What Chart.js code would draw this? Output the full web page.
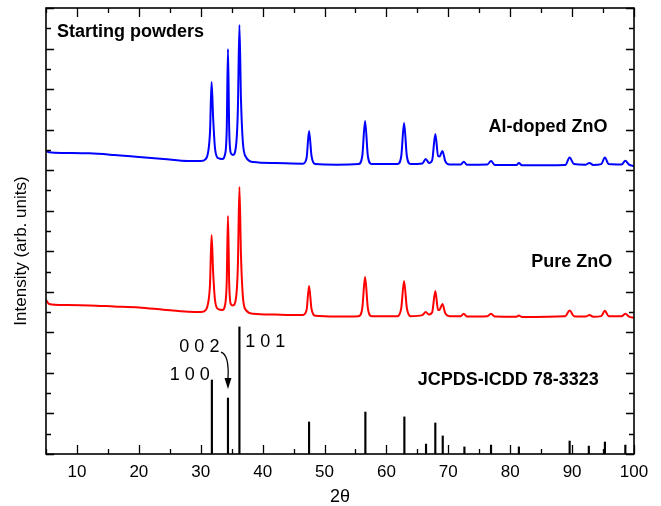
<!DOCTYPE html>
<html>
<head>
<meta charset="utf-8">
<script src="https://cdn.jsdelivr.net/npm/chart.js@4/dist/chart.umd.min.js"></script>
<style>
  body { margin: 0; background: #fff; }
  canvas { display: block; }
</style>
</head>
<body>
<canvas id="grafico" width="661" height="506"></canvas>
<script>
// 2θ grid shared by both scans
const scanAngles = [5, 5.5, 8, 12, 16, 20, 24, 28, 30, 30.8, 31.2, 31.5, 31.75, 32.0, 32.3, 32.8, 33.5, 33.9, 34.2, 34.4, 34.6, 34.85, 35.2, 35.7, 36.0, 36.25, 36.5, 36.8, 37.3, 38.5, 42, 46.5, 47.1, 47.5, 47.9, 48.5, 52, 55.5, 56.1, 56.55, 57.0, 57.6, 61.8, 62.4, 62.85, 63.3, 63.9, 65.8, 66.35, 66.9, 67.4, 67.9, 68.35, 68.6, 69.05, 69.5, 70.2, 72.0, 72.5, 73.0, 76.3, 76.9, 77.5, 81.0, 81.4, 81.9, 88.9, 89.6, 90.3, 92.2, 92.8, 93.4, 94.7, 95.3, 95.9, 98.0, 98.6, 99.2, 100];

// Al-doped ZnO (desplazado hacia arriba)
const alDoped = [14.95, 14.88, 14.85, 14.83, 14.75, 14.65, 14.55, 14.45, 14.45, 14.55, 14.9, 15.9, 18.35, 16.6, 15.1, 14.6, 14.55, 14.75, 16.0, 19.98, 16.0, 14.85, 14.75, 15.2, 17.0, 21.16, 17.5, 15.4, 14.65, 14.4, 14.35, 14.32, 14.6, 15.93, 14.7, 14.3, 14.27, 14.3, 14.7, 16.43, 14.7, 14.3, 14.3, 14.7, 16.33, 14.7, 14.3, 14.33, 14.55, 14.35, 14.5, 15.79, 14.7, 14.68, 14.95, 14.45, 14.28, 14.28, 14.42, 14.27, 14.28, 14.45, 14.26, 14.25, 14.35, 14.24, 14.26, 14.62, 14.3, 14.27, 14.36, 14.26, 14.3, 14.62, 14.3, 14.28, 14.46, 14.27, 14.2];

// Pure ZnO
const pureZnO = [7.6, 7.4, 7.35, 7.33, 7.28, 7.23, 7.12, 7.02, 7.0, 7.1, 7.45, 8.4, 10.8, 9.0, 7.6, 7.15, 7.1, 7.3, 8.5, 11.74, 8.4, 7.4, 7.33, 7.7, 9.3, 13.17, 9.8, 7.8, 7.1, 6.92, 6.88, 6.86, 7.1, 8.29, 7.15, 6.82, 6.78, 6.8, 7.2, 8.73, 7.2, 6.8, 6.8, 7.2, 8.53, 7.2, 6.8, 6.85, 7.0, 6.88, 7.0, 8.04, 7.1, 7.12, 7.4, 6.95, 6.8, 6.8, 6.92, 6.78, 6.8, 6.92, 6.78, 6.77, 6.83, 6.76, 6.8, 7.08, 6.8, 6.78, 6.86, 6.77, 6.8, 7.06, 6.8, 6.8, 6.92, 6.78, 6.72];

// JCPDS-ICDD 78-3323 reference lines
const refAngles = [31.8, 34.4, 36.25, 47.5, 56.6, 62.9, 66.4, 67.9, 69.1, 72.6, 76.9, 81.4, 89.6, 92.7, 95.3, 98.6];
const refHeights = [3.65, 2.76, 6.27, 1.58, 2.07, 1.83, 0.49, 1.53, 0.89, 0.35, 0.44, 0.35, 0.64, 0.39, 0.59, 0.44];

const xTickLabels = [10, 20, 30, 40, 50, 60, 70, 80, 90, 100];

const FUENTE = "'Liberation Sans', Arial, sans-serif";

function puntos(xs, ys) {
    return xs.map((x, i) => ({ x: x, y: ys[i] }));
}

// marco, marcas hacia dentro y textos
const marco = {
    id: 'marco',
    afterDatasetsDraw(chart) {
        const { ctx, chartArea: a, scales: { x, y } } = chart;
        ctx.save();
        ctx.strokeStyle = '#000';
        ctx.lineWidth = 1.6;
        ctx.strokeRect(a.left, a.top, a.right - a.left, a.bottom - a.top);

        ctx.lineWidth = 1.3;
        ctx.beginPath();
        for (let v = 5; v <= 100; v += 5) {
            const px = Math.round(x.getPixelForValue(v)) + 0.5;
            const len = v % 10 === 0 ? 9 : 5;
            ctx.moveTo(px, a.bottom); ctx.lineTo(px, a.bottom - len);
            ctx.moveTo(px, a.top); ctx.lineTo(px, a.top + len);
        }
        for (let v = 0; v <= 22; v++) {
            const py = Math.round(y.getPixelForValue(v)) + 0.5;
            const len = v % 2 === 0 ? 8 : 5;
            ctx.moveTo(a.left, py); ctx.lineTo(a.left + len, py);
            ctx.moveTo(a.right, py); ctx.lineTo(a.right - len, py);
        }
        ctx.stroke();

        // textos
        ctx.fillStyle = '#000';
        ctx.textBaseline = 'middle';
        ctx.font = 'bold 18px ' + FUENTE;
        ctx.textAlign = 'left';
        ctx.fillText('Starting powders', x.getPixelForValue(6.78), y.getPixelForValue(20.82));
        ctx.textAlign = 'right';
        ctx.fillText('Al-doped ZnO', x.getPixelForValue(95.7), y.getPixelForValue(16.13));
        ctx.fillText('Pure ZnO', x.getPixelForValue(96.5), y.getPixelForValue(9.47));
        ctx.fillText('JCPDS-ICDD 78-3323', x.getPixelForValue(94.3), y.getPixelForValue(3.65));

        ctx.font = '18px ' + FUENTE;
        ctx.textAlign = 'center';
        ctx.fillText('1 0 0', x.getPixelForValue(28.24), y.getPixelForValue(3.9));
        ctx.fillText('0 0 2', x.getPixelForValue(29.78), y.getPixelForValue(5.28));
        ctx.fillText('1 0 1', x.getPixelForValue(40.43), y.getPixelForValue(5.53));

        // flecha hacia la línea 0 0 2
        const tx = x.getPixelForValue(34.4);
        const ty = y.getPixelForValue(2.76) - 9;
        ctx.lineWidth = 1.3;
        ctx.beginPath();
        ctx.moveTo(tx - 7, ty - 37);
        ctx.bezierCurveTo(tx - 1, ty - 35, tx + 1, ty - 26, tx, ty - 10);
        ctx.stroke();
        ctx.beginPath();
        ctx.moveTo(tx, ty);
        ctx.lineTo(tx - 3.5, ty - 11);
        ctx.lineTo(tx + 3.5, ty - 11);
        ctx.closePath();
        ctx.fill();

        // título del eje y
        ctx.save();
        ctx.translate(21, 251);
        ctx.rotate(-Math.PI / 2);
        ctx.font = '17px ' + FUENTE;
        ctx.textAlign = 'center';
        ctx.fillText('Intensity (arb. units)', 0, 0);
        ctx.restore();

        ctx.restore();
    }
};

Chart.defaults.color = '#000';
Chart.defaults.font.family = FUENTE;

new Chart(document.getElementById('grafico'), {
    type: 'line',
    data: {
        datasets: [
            {
                label: 'Al-doped ZnO',
                data: puntos(scanAngles, alDoped),
                borderColor: '#0000ff',
                borderWidth: 2,
                pointRadius: 0,
                cubicInterpolationMode: 'monotone'
            },
            {
                label: 'Pure ZnO',
                data: puntos(scanAngles, pureZnO),
                borderColor: '#ff0000',
                borderWidth: 2,
                pointRadius: 0,
                cubicInterpolationMode: 'monotone'
            },
            {
                type: 'bar',
                label: 'JCPDS-ICDD 78-3323',
                data: puntos(refAngles, refHeights),
                backgroundColor: '#000',
                borderWidth: 0,
                barThickness: 1.5
            }
        ]
    },
    options: {
        responsive: false,
        animation: false,
        devicePixelRatio: 1,
        layout: { padding: { left: 46, right: 27, top: 8, bottom: 0 } },
        plugins: {
            legend: { display: false },
            tooltip: { enabled: false }
        },
        scales: {
            x: {
                type: 'linear',
                min: 5,
                max: 100,
                offset: false,
                border: { display: false },
                grid: { display: false, drawTicks: false },
                ticks: {
                    stepSize: 10,
                    padding: 8,
                    font: { size: 17 },
                    maxRotation: 0,
                    callback: v => xTickLabels.includes(v) ? v : ''
                },
                title: {
                    display: true,
                    text: '2θ',
                    font: { size: 18, lineHeight: 1 },
                    padding: { top: 0, bottom: 0 }
                },
                afterFit: scale => { scale.height = 52; }
            },
            y: {
                min: 0,
                max: 22,
                display: false
            }
        }
    },
    plugins: [marco]
});
</script>
</body>
</html>
